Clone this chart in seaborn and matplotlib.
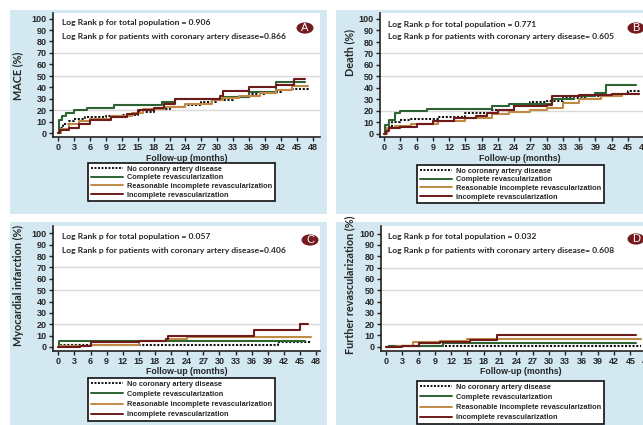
import matplotlib
matplotlib.use("Agg")
import matplotlib.pyplot as plt
from matplotlib.patches import Rectangle, Circle
from matplotlib.lines import Line2D
import seaborn as sns
import pandas as pd

sns.set_theme(style="white")
plt.rcParams["font.family"] = ["Liberation Sans", "DejaVu Sans"]

# ---- data -------------------------------------------------------------
groups = ["No coronary artery disease", "Complete revascularization",
          "Reasonable incomplete revascularization", "Incomplete revascularization"]

# MACE
mace_nocad_m = [0, 0.3, 1, 2, 3, 5, 9, 12, 15, 18, 21, 24, 27, 30, 33, 36, 39, 41, 42, 44, 47]
mace_nocad_p = [0, 5, 8, 11, 13, 14, 15, 16, 19, 21, 23, 25, 27, 29, 32, 34, 35, 36, 38, 39, 40]
mace_comp_m = [0, 0.2, 0.8, 1.5, 3, 5.5, 10.5, 19.5, 22, 31, 36, 41, 46.5]
mace_comp_p = [0, 12, 15, 18, 20, 22, 25, 27, 30, 32, 36, 45, 45]
mace_reas_m = [0, 0.5, 2, 4, 6, 10, 14, 16, 20, 24, 29, 31, 34, 38, 41, 44, 47]
mace_reas_p = [0, 4, 8, 11, 13, 15, 18, 21, 23, 26, 29, 31, 33, 35, 38, 41, 41]
mace_inc_m = [0, 0.3, 2, 4, 6, 10, 13, 15, 18, 20, 22, 30.5, 31, 36, 41, 44.5, 46.5]
mace_inc_p = [0, 3, 5, 8, 12, 14, 17, 20, 22, 26, 30, 33, 37, 40, 42, 47, 47]

# Death
death_nocad_m = [0, 0.5, 1.5, 3, 5, 10, 15, 20, 24, 27, 30, 33, 37, 42, 45, 47]
death_nocad_p = [0, 6, 10, 12, 13, 15, 18, 21, 25, 28, 29, 31, 33, 35, 37, 38]
death_comp_m = [0, 0.2, 1, 2, 3, 8, 20, 23, 31, 35, 39, 41, 46.5]
death_comp_p = [0, 8, 12, 18, 20, 22, 24, 26, 30, 33, 36, 43, 43]
death_reas_m = [0, 0.5, 2, 5, 10, 15, 20, 23, 27, 30, 33, 36, 40, 44, 47]
death_reas_p = [0, 5, 7, 9, 11, 14, 17, 19, 21, 23, 27, 30, 33, 35, 35]
death_inc_m = [0, 0.3, 1, 3, 6, 9, 13, 17, 19, 21, 24, 30, 31, 36, 42, 47]
death_inc_p = [0, 3, 5, 6, 9, 11, 14, 16, 18, 21, 24, 25, 33, 34, 35, 35]

# Myocardial infarction
mi_nocad_m = [0, 0.5, 41, 47]
mi_nocad_p = [0, 2, 4, 4]
mi_comp_m = [0, 0.1, 46]
mi_comp_p = [0, 5, 5]
mi_reas_m = [0, 0.3, 6, 15, 20, 24, 47]
mi_reas_p = [0, 1, 2, 5, 7, 9, 9]
mi_inc_m = [0, 4, 6, 15, 20, 20.5, 36.5, 45, 46.5]
mi_inc_p = [0, 1, 4, 5, 7, 10, 15, 20, 20]

# Further revascularization
rv_nocad_m = [0, 0.5, 47]
rv_nocad_p = [0, 1, 1]
rv_comp_m = [0, 0.5, 10.5, 46]
rv_comp_p = [0, 1, 3.5, 3.5]
rv_reas_m = [0, 2, 5, 10, 15, 47]
rv_reas_p = [0, 1, 4, 5, 7, 7]
rv_inc_m = [0, 3, 6, 10, 15.5, 20.5, 46]
rv_inc_p = [0, 1, 3, 4, 6, 10.5, 10.5]

panel_letters = ["A", "B", "C", "D"]
y_labels = ["MACE (%)", "Death (%)", "Myocardial infarction (%)", "Further revascularization (%)"]
note_total = ["Log Rank p for total population = 0.906",
              "Log Rank p for total population = 0.771",
              "Log Rank p for total population = 0.057",
              "Log Rank p for total population = 0.032"]
note_cad = ["Log Rank p for patients with coronary artery disease=0.866",
            "Log Rank p for patients with coronary artery disease= 0.605",
            "Log Rank p for patients with coronary artery disease=0.406",
            "Log Rank p for patients with coronary artery disease= 0.608"]
y_ticks = list(range(0, 101, 10))
x_ticks = list(range(0, 49, 3))
grid_levels = [20, 50, 70]

series = [
    [(mace_nocad_m, mace_nocad_p), (mace_comp_m, mace_comp_p), (mace_reas_m, mace_reas_p), (mace_inc_m, mace_inc_p)],
    [(death_nocad_m, death_nocad_p), (death_comp_m, death_comp_p), (death_reas_m, death_reas_p), (death_inc_m, death_inc_p)],
    [(mi_nocad_m, mi_nocad_p), (mi_comp_m, mi_comp_p), (mi_reas_m, mi_reas_p), (mi_inc_m, mi_inc_p)],
    [(rv_nocad_m, rv_nocad_p), (rv_comp_m, rv_comp_p), (rv_reas_m, rv_reas_p), (rv_inc_m, rv_inc_p)],
]

palette = {groups[0]: "#111111", groups[1]: "#2c6331", groups[2]: "#c08a45", groups[3]: "#6e1a1a"}
dashes = {groups[0]: (1, 0.8), groups[1]: "", groups[2]: "", groups[3]: ""}

# ---- layout (pixels) ---------------------------------------------------
W, H = 643, 425
BG = "#d3e8f1"
DARK_RED = "#751a1d"

# panel background boxes: x0, x1, y0, y1
panels_bg = [(10, 327, 10, 214), (336, 643, 10, 214), (10, 327, 222, 425), (336, 643, 222, 425)]
# axes geometry: spine x, right edge, top edge, spine y, px of month 0, px/month, px of 0%, px/%
axes_geo = [
    (53, 320, 13, 137, 58.0, 5.31, 133.5, 1.15),
    (380, 660, 13, 137, 384.0, 5.42, 134.0, 1.15),
    (53, 320, 226, 350.5, 58.3, 5.37, 347.0, 1.137),
    (381, 660, 226, 350.5, 386.0, 5.43, 346.7, 1.13),
]
legend_pos = [(88, 163), (417, 165), (88, 378), (417, 381)]
label_pos = [(18, 76), (350, 52), (18, 285), (350, 285)]
note_y = [(23, 37), (24, 37), (237, 250), (236, 250)]
note_x = [62, 388, 62, 388]
circle_pos = [(305, 28), (636, 28), (310, 240), (636, 239)]

fig = plt.figure(figsize=(W / 100, H / 100), dpi=100)
fig.patch.set_facecolor("white")

for (x0, x1, y0, y1) in panels_bg:
    fig.patches.append(Rectangle((x0 / W, 1 - y1 / H), (x1 - x0) / W, (y1 - y0) / H,
                                 transform=fig.transFigure, facecolor=BG, edgecolor="none", zorder=-10))

tick_font = dict(family="Liberation Sans", weight="bold", size=6.5)
note_font = dict(family="Lato", weight="bold", size=6.1)

for i in range(4):
    sx, rx, ty, sy, mx0, mpx, py0, ppx = axes_geo[i]
    ax = fig.add_axes([sx / W, 1 - sy / H, (rx - sx) / W, (sy - ty) / H])
    ax.set_facecolor("white")
    ax.set_xlim((sx - mx0) / mpx, (rx - mx0) / mpx)
    ax.set_ylim((py0 - sy) / ppx, (py0 - ty) / ppx)

    rows = []
    for g, (m, p) in zip(groups, series[i]):
        for mm, pp in zip(m, p):
            rows.append({"month": mm, "pct": pp, "group": g})
    df = pd.DataFrame(rows)

    for lvl in grid_levels:
        ax.axhline(lvl, color="#d9d9d9", lw=1.0, zorder=0)

    sns.lineplot(data=df, x="month", y="pct", hue="group", style="group",
                 hue_order=groups, style_order=groups, palette=palette, dashes=dashes,
                 drawstyle="steps-post", estimator=None, sort=False, lw=1.5,
                 legend=False, ax=ax)

    for s in ["top", "right"]:
        ax.spines[s].set_visible(False)
    for s in ["left", "bottom"]:
        ax.spines[s].set_color("#222222")
        ax.spines[s].set_linewidth(1.2)
    ax.set_xticks(x_ticks)
    ax.set_yticks(y_ticks)
    ax.set_xticklabels([str(t) for t in x_ticks], **tick_font)
    ax.set_yticklabels([str(t) for t in y_ticks], **tick_font)
    ax.tick_params(axis="both", which="major", direction="out", length=3, width=1,
                   color="#222222", pad=1.5, bottom=True, left=True)
    ax.set_xlabel("Follow-up (months)", fontdict=dict(family="Liberation Sans", weight="bold", size=6.3), labelpad=1)
    ax.set_ylabel("")
    lx_, ly_ = label_pos[i]
    fig.text(lx_ / W, 1 - ly_ / H, y_labels[i], rotation=90,
             ha="center", va="center", family="Lato", weight="bold", size=7.8)

    ny1, ny2 = note_y[i]
    fig.text(note_x[i] / W, 1 - ny1 / H, note_total[i], ha="left", va="center", **note_font)
    fig.text(note_x[i] / W, 1 - ny2 / H, note_cad[i], ha="left", va="center", **note_font)

    cx, cy = circle_pos[i]
    fig.patches.append(Circle((cx / W, 1 - cy / H), 8.5 / W, transform=fig.transFigure,
                              facecolor=DARK_RED, edgecolor="none", zorder=5))
    fig.text(cx / W, 1 - cy / H, panel_letters[i], ha="center", va="center", color="white",
             family="Liberation Sans", size=8, zorder=6)

    handles = [Line2D([], [], color=palette[g], lw=1.4,
                      linestyle=(0, (1, 0.8)) if g == groups[0] else "-") for g in groups]
    lx, ly = legend_pos[i]
    leg = fig.legend(handles, groups, loc="upper left", bbox_to_anchor=(lx / W, 1 - ly / H),
                     frameon=True, fancybox=False, edgecolor="#111111", framealpha=1,
                     prop=dict(family="Liberation Sans", weight="bold", size=5.3),
                     handlelength=4.4, handletextpad=0.6, borderpad=0.35,
                     labelspacing=0.2 if i < 2 else 0.42, borderaxespad=0)
    leg.get_frame().set_linewidth(1.2)

fig.savefig("out.png", dpi=100)
